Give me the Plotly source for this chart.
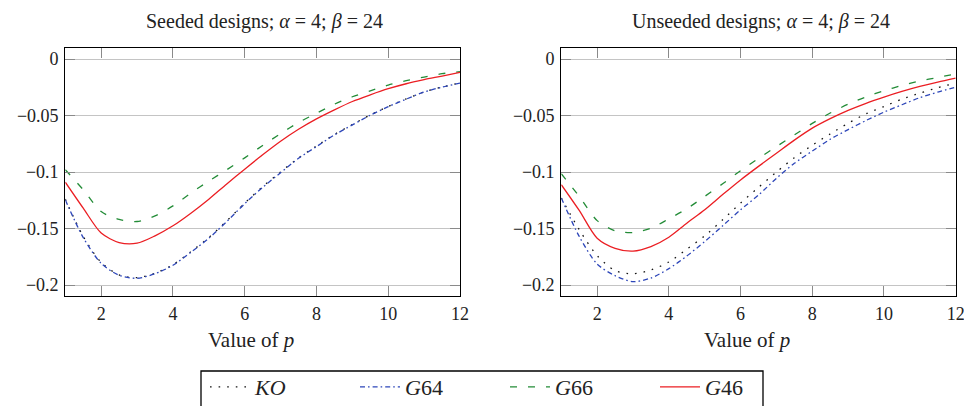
import plotly.graph_objects as go
from plotly.subplots import make_subplots

# ---------------- data ----------------
p_values = [1, 1.5, 2, 2.5, 3, 3.5, 4, 4.5, 5, 5.5, 6, 6.5, 7, 7.5, 8, 8.5, 9, 9.5, 10, 10.5, 11, 11.5, 12]

seeded_KO = [-0.1240, -0.1570, -0.1800, -0.1910, -0.1935, -0.1895, -0.1820, -0.1705, -0.1580, -0.1432, -0.1275,
             -0.1130, -0.1000, -0.0875, -0.0770, -0.0668, -0.0580, -0.0495, -0.0420, -0.0353, -0.0292, -0.0248, -0.0212]
seeded_G64 = [-0.1246, -0.1580, -0.1808, -0.1914, -0.1940, -0.1900, -0.1825, -0.1710, -0.1586, -0.1438, -0.1280,
              -0.1136, -0.1006, -0.0879, -0.0775, -0.0672, -0.0583, -0.0497, -0.0422, -0.0355, -0.0292, -0.0249, -0.0213]
seeded_G66 = [-0.0980, -0.1157, -0.1350, -0.1420, -0.1438, -0.1388, -0.1300, -0.1186, -0.1080, -0.0980, -0.0875,
              -0.0765, -0.0660, -0.0562, -0.0480, -0.0400, -0.0334, -0.0282, -0.0231, -0.0192, -0.0160, -0.0130, -0.0112]
seeded_G46 = [-0.1090, -0.1320, -0.1540, -0.1624, -0.1630, -0.1565, -0.1476, -0.1364, -0.1240, -0.1105, -0.0975,
              -0.0848, -0.0728, -0.0622, -0.0530, -0.0450, -0.0376, -0.0317, -0.0263, -0.0219, -0.0183, -0.0151, -0.0118]

unseeded_KO = [-0.1230, -0.1510, -0.1740, -0.1873, -0.1900, -0.1867, -0.1796, -0.1683, -0.1565, -0.1423, -0.1275,
               -0.1136, -0.1000, -0.0873, -0.0763, -0.0663, -0.0568, -0.0485, -0.0420, -0.0355, -0.0302, -0.0254, -0.0213]
unseeded_G64 = [-0.1230, -0.1570, -0.1814, -0.1917, -0.1970, -0.1938, -0.1855, -0.1743, -0.1615, -0.1476, -0.1334,
                -0.1204, -0.1056, -0.0923, -0.0815, -0.0710, -0.0625, -0.0544, -0.0470, -0.0405, -0.0342, -0.0293, -0.0249]
unseeded_G66 = [-0.1015, -0.1216, -0.1430, -0.1520, -0.1536, -0.1497, -0.1414, -0.1325, -0.1216, -0.1104, -0.0988,
                -0.0879, -0.0775, -0.0672, -0.0570, -0.0478, -0.0400, -0.0335, -0.0281, -0.0234, -0.0195, -0.0163, -0.0133]
unseeded_G46 = [-0.1112, -0.1340, -0.1586, -0.1675, -0.1700, -0.1660, -0.1577, -0.1453, -0.1334, -0.1200, -0.1070,
                -0.0950, -0.0834, -0.0718, -0.0612, -0.0528, -0.0455, -0.0392, -0.0337, -0.0287, -0.0243, -0.0204, -0.0169]

series_names = ["<i>KO</i>", "<i>G</i>64", "<i>G</i>66", "<i>G</i>46"]
panel_titles = ["Seeded designs; <i>α</i> = 4; <i>β</i> = 24",
                "Unseeded designs; <i>α</i> = 4; <i>β</i> = 24"]
x_label = "Value of <i>p</i>"
x_tick_vals = [2, 4, 6, 8, 10, 12]
x_tick_text = ["2", "4", "6", "8", "10", "12"]
y_tick_vals = [0, -0.05, -0.1, -0.15, -0.2]
y_tick_text = ["0", "\u22120.05", "\u22120.1", "\u22120.15", "\u22120.2"]

# ---------------- style ----------------
W, H = 964, 406
FONT = "Liberation Serif"
styles = [
    dict(color="rgb(20,20,20)", dash="1.6px,7px"),
    dict(color="rgb(45,70,185)", dash="5px,3px,1.6px,3px"),
    dict(color="rgb(35,140,55)", dash="7px,11px"),
    dict(color="rgb(235,30,35)", dash="solid"),
]

fig = make_subplots(rows=1, cols=2)

panels = [
    [seeded_KO, seeded_G64, seeded_G66, seeded_G46],
    [unseeded_KO, unseeded_G64, unseeded_G66, unseeded_G46],
]
for ci, panel in enumerate(panels):
    for si, ys in enumerate(panel):
        fig.add_trace(go.Scatter(
            x=p_values, y=ys, mode="lines", name=series_names[si],
            line=dict(color=styles[si]["color"], dash=styles[si]["dash"], width=1.3,
                      shape="spline", smoothing=0.8),
            showlegend=(ci == 0), legendrank=si + 1,
        ), row=1, col=ci + 1)

# pixel geometry -> paper fractions
def px_x(v):
    return v / W

def px_y(v):
    return 1 - v / H

x_domains = [[px_x(65.3), px_x(460.0)], [px_x(561.3), px_x(955.7)]]
y_domain = [px_y(296.0), px_y(47.7)]

axis_common = dict(
    showline=True, linecolor="black", linewidth=1.3, mirror="allticks",
    ticks="inside", ticklen=10, tickwidth=1, tickcolor="#8a8a8a",
    tickfont=dict(family=FONT, size=18, color="#222"),
    zeroline=False, ticklabeloverflow="allow",
)
for i in range(2):
    fig.update_xaxes(axis_common, row=1, col=i + 1, domain=x_domains[i], range=[1, 12],
                     tickvals=x_tick_vals, ticktext=x_tick_text, showgrid=False,
                     ticklabelstandoff=1)
    fig.update_yaxes(axis_common, row=1, col=i + 1, domain=y_domain, range=[-0.2097, 0.0100],
                     tickvals=y_tick_vals, ticktext=y_tick_text, showgrid=True,
                     gridcolor="#c4c4c4", gridwidth=1, ticklabelstandoff=2)

annotations = []
title_centers = [264.0, 761.0]
label_centers = [251.0, 747.0]
for i in range(2):
    annotations.append(dict(text=panel_titles[i], x=px_x(title_centers[i]), y=px_y(21.5),
                            xref="paper", yref="paper", xanchor="center", yanchor="middle",
                            showarrow=False, font=dict(family=FONT, size=20, color="#222")))
    annotations.append(dict(text=x_label, x=px_x(label_centers[i]), y=px_y(339.5),
                            xref="paper", yref="paper", xanchor="center", yanchor="middle",
                            showarrow=False, font=dict(family=FONT, size=21, color="#222")))

# legend frame (open at the bottom edge of the picture, as in the reference)
legend_box = dict(type="rect", xref="paper", yref="paper",
                  x0=px_x(201), x1=px_x(763), y0=px_y(420), y1=px_y(371),
                  line=dict(color="black", width=1.3), fillcolor="rgba(0,0,0,0)", layer="above")

fig.update_layout(
    width=W, height=H,
    margin=dict(l=0, r=0, t=0, b=0, autoexpand=False),
    paper_bgcolor="white", plot_bgcolor="white",
    annotations=annotations,
    shapes=[legend_box],
    legend=dict(
        orientation="h", x=px_x(205), y=px_y(366), xanchor="left", yanchor="top",
        borderwidth=0, bgcolor="rgba(0,0,0,0)",
        font=dict(family=FONT, size=22, color="#222"),
        entrywidth=95, entrywidthmode="pixels", itemwidth=40,
        traceorder="normal",
    ),
)

fig.write_html("out.html", config={"displayModeBar": False},
               post_script="document.body.style.margin='0';document.body.style.overflow='hidden';")
